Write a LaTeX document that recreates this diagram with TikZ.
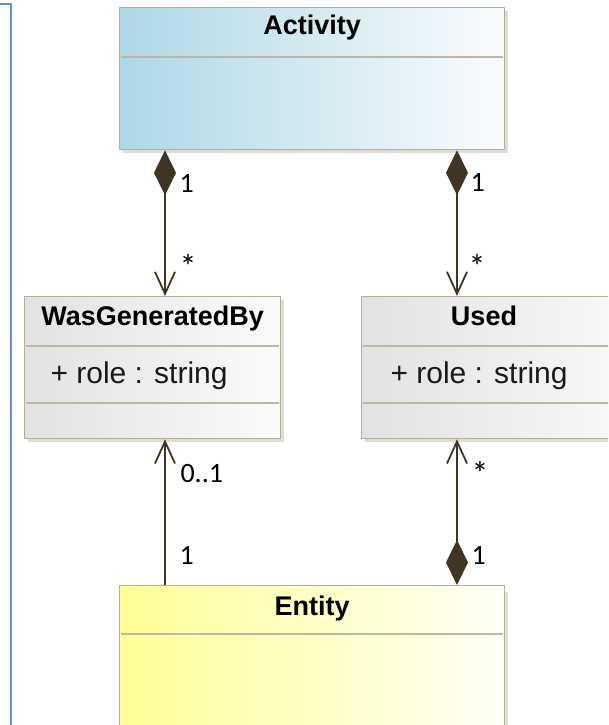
\documentclass[tikz,border=0pt]{standalone}
\usepackage{fontspec}
\setmainfont{Liberation Sans}
\newfontfamily\multfont{Carlito}
\usetikzlibrary{arrows.meta,calc}

\definecolor{actL}{RGB}{174,216,230}
\definecolor{actR}{RGB}{250,252,253}
\definecolor{grayL}{RGB}{226,226,226}
\definecolor{grayR}{RGB}{251,251,251}
\definecolor{entL}{RGB}{255,255,150}
\definecolor{entR}{RGB}{255,255,246}
\definecolor{boxborder}{RGB}{182,174,154}
\definecolor{sepline}{RGB}{192,182,160}
\definecolor{shadowc}{RGB}{222,220,214}
\definecolor{linkc}{RGB}{64,52,34}
\definecolor{frameblue}{RGB}{94,144,212}

\tikzset{
  classbox/.style={draw=boxborder, line width=1.3pt, rectangle, anchor=north west,
    inner sep=0pt, minimum height=142pt},
  sepstyle/.style={draw=sepline, line width=1.3pt},
  classtitle/.style={anchor=base, font=\bfseries\fontsize{27}{30}\selectfont, text=black},
  attrtext/.style={anchor=base west, font=\fontsize{30}{34}\selectfont, text=black!90},
  multlabel/.style={anchor=base west, font=\multfont\fontsize{28}{32}\selectfont, text=black},
  starlabel/.style={anchor=base west, font=\multfont\fontsize{34}{36}\selectfont, text=black},
  assoc/.style={draw=linkc, line width=1.8pt},
  compnav/.style={{Diamond[length=45pt,width=22pt,fill=linkc]}-{Straight Barb[length=22pt,width=20pt]}},
  nav/.style={-{Straight Barb[length=22pt,width=20pt]}},
}

\begin{document}
\begin{tikzpicture}[x=1pt,y=-1pt]
\clip (0,0) rectangle (608,725);
\fill[white] (0,0) rectangle (608,725);

% frame edge of the enclosing package on the left
\draw[frameblue, line width=2pt] (-5,4) -- (11,4) -- (11,740);

% drop shadows
\fill[shadowc] (123,11) rectangle (508,153);
\fill[shadowc] (28,300) rectangle (284,442);
\fill[shadowc] (365,300) rectangle (660,442);
\fill[shadowc] (123,592) rectangle (508,740);

% Activity
\node[classbox, left color=actL, right color=actR, minimum width=385pt] (act) at (119,7) {};
\draw[sepstyle] ($(act.north west)+(2,50)$) -- ($(act.north east)+(-2,50)$);
\node[classtitle] (actname) at ($(act.north)+(0,28)$) {Activity};

% WasGeneratedBy
\node[classbox, left color=grayL, right color=grayR, minimum width=256pt] (wgb) at (24,296) {};
\draw[sepstyle] ($(wgb.north west)+(2,50)$) -- ($(wgb.north east)+(-2,50)$);
\draw[sepstyle] ($(wgb.north west)+(2,107)$) -- ($(wgb.north east)+(-2,107)$);
\node[classtitle] (wgbname) at ($(wgb.north)+(0,29)$) {WasGeneratedBy};
\node[attrtext] (wgbattr) at ($(wgb.north west)+(23,87)$) {+ role : string};

% Used (runs past the right edge)
\node[classbox, left color=grayL, right color=grayR, minimum width=290pt] (used) at (361,296) {};
\draw[sepstyle] ($(used.north west)+(2,50)$) -- ($(used.north east)+(-2,50)$);
\draw[sepstyle] ($(used.north west)+(2,107)$) -- ($(used.north east)+(-2,107)$);
\node[classtitle] (usedname) at (484,325) {Used};
\node[attrtext] (usedattr) at ($(used.north west)+(26,87)$) {+ role : string};

% Entity
\node[classbox, left color=entL, right color=entR, minimum width=385pt, minimum height=150pt] (ent) at (119,585) {};
\draw[sepstyle] ($(ent.north west)+(2,49)$) -- ($(ent.north east)+(-2,49)$);
\node[classtitle] (entname) at ($(ent.north)+(0,30)$) {Entity};

% connector columns
\coordinate (cl) at (165,0);
\coordinate (cr) at (457,0);

% associations
\draw[assoc, compnav] (act.south -| cl) -- (wgb.north -| cl);
\draw[assoc, compnav] (act.south -| cr) -- (used.north -| cr);
\draw[assoc, nav] (ent.north -| cl) -- (wgb.south -| cl);
\draw[assoc, compnav] (ent.north -| cr) -- (used.south -| cr);

% multiplicities
\node[multlabel] (m1) at (176,192) {1};
\node[starlabel] (m2) at (176,278) {*};
\node[multlabel] (m3) at (467,191) {1};
\node[starlabel] (m4) at (465,278) {*};
\node[multlabel] (m5) at (177,482) {0..1};
\node[multlabel] (m6) at (176,564) {1};
\node[starlabel] (m7) at (468,485) {*};
\node[multlabel] (m8) at (468,564) {1};
\end{tikzpicture}
\end{document}
